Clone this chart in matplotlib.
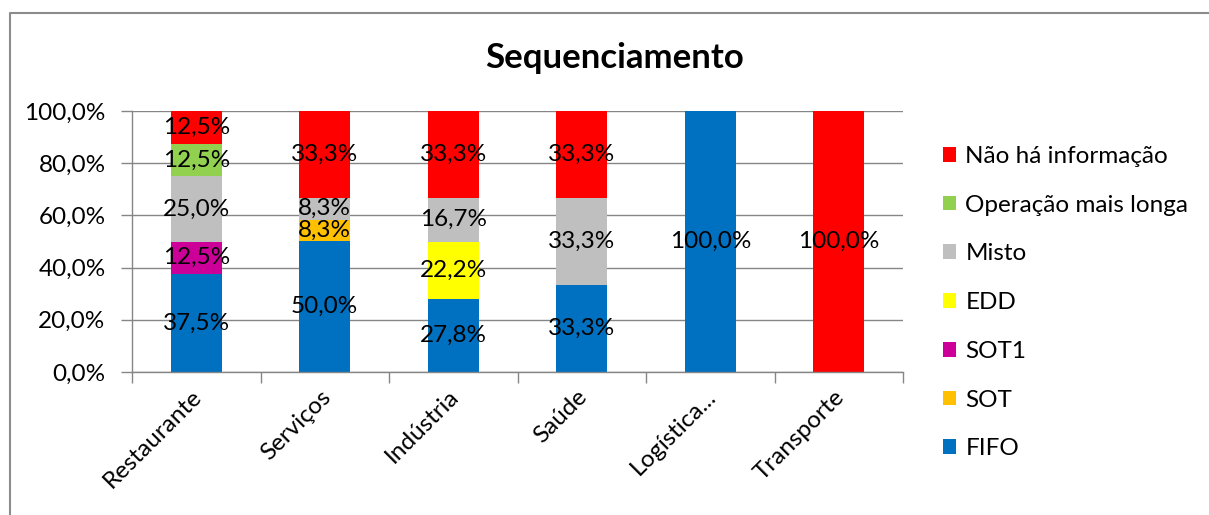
import numpy as np
import matplotlib
matplotlib.use("Agg")
import matplotlib.pyplot as plt
import matplotlib.transforms as mtransforms
from matplotlib.lines import Line2D
from matplotlib.patches import Patch

plt.rcParams['font.family'] = ['Lato', 'DejaVu Sans']

categories = ['Restaurante', 'Serviços', 'Indústria', 'Saúde', 'Logística...', 'Transporte']
series_names = ['FIFO', 'SOT', 'SOT1', 'EDD', 'Misto', 'Operação mais longa', 'Não há informação']
fifo = [37.5, 50.0, 27.8, 33.3, 100.0, 0.0]
sot = [0.0, 8.3, 0.0, 0.0, 0.0, 0.0]
sot1 = [12.5, 0.0, 0.0, 0.0, 0.0, 0.0]
edd = [0.0, 0.0, 22.2, 0.0, 0.0, 0.0]
misto = [25.0, 8.3, 16.7, 33.3, 0.0, 0.0]
op_longa = [12.5, 0.0, 0.0, 0.0, 0.0, 0.0]
sem_info = [12.5, 33.3, 33.3, 33.3, 0.0, 100.0]
colors = ['#0070C0', '#FFC000', '#CC0099', '#FFFF00', '#BFBFBF', '#92D050', '#FF0000']

values = [fifo, sot, sot1, edd, misto, op_longa, sem_info]
# normalise each column to 100% like a percent-stacked chart
totals = np.sum(values, axis=0)
shares = [np.array(v) / totals * 100 for v in values]

FS = 17.5

fig = plt.figure(figsize=(12.09, 5.15), dpi=100)
ax = fig.add_axes([132 / 1209, 1 - 372 / 515, (903 - 132) / 1209, (372 - 111) / 515])

x = np.arange(len(categories))
bottom = np.zeros(len(categories))
for name, raw, share, col in zip(series_names, values, shares, colors):
    ax.bar(x, share, 0.4, bottom=bottom, color=col, label=name, zorder=2)
    for xi, r, s, b in zip(x, raw, share, bottom):
        if r > 0:
            ax.text(xi, b + s / 2, f"{r:.1f}%".replace('.', ','), ha='center', va='center',
                    fontsize=FS, color='black', zorder=3)
    bottom += share

ax.set_xlim(-0.5, len(categories) - 0.5)
ax.set_ylim(0, 100)
ax.set_yticks(np.arange(0, 101, 20))
ax.set_yticklabels([f"{v:.1f}%".replace('.', ',') for v in np.arange(0, 101, 20)], fontsize=FS)
ax.yaxis.grid(True, color='#868686', lw=1, zorder=0)
ax.set_axisbelow(True)

ax.set_xticks(x)
ax.set_xticklabels(categories, rotation=45, ha='right', rotation_mode='anchor', fontsize=FS)
ax.tick_params(axis='x', length=0, pad=10)
# nudge rotated category labels slightly left
shift = mtransforms.ScaledTranslation(-5 / 100, 0, fig.dpi_scale_trans)
for lbl in ax.get_xticklabels():
    lbl.set_transform(lbl.get_transform() + shift)
ax.set_xticks(np.arange(-0.5, len(categories)), minor=True)
ax.tick_params(axis='x', which='minor', length=8, color='#868686', width=1)
ax.tick_params(axis='y', length=8, color='#868686', width=1, pad=11)

for side in ['top', 'right']:
    ax.spines[side].set_visible(False)
for side in ['left', 'bottom']:
    ax.spines[side].set_color('#868686')
    ax.spines[side].set_linewidth(1)

fig.text(615 / 1209, 1 - 58 / 515, 'Sequenciamento', ha='center', va='center',
         fontsize=25, fontweight='bold')

handles = [Patch(facecolor=c, edgecolor='none') for c in colors][::-1]
fig.legend(handles, series_names[::-1], loc='upper left', bbox_to_anchor=(943 / 1209, 1 - 146 / 515),
           frameon=False, fontsize=FS, handlelength=0.55, handleheight=0.55, handletextpad=0.37,
           labelspacing=1.14, borderaxespad=0, borderpad=0)

# chart frame (top and left edges)
fig.add_artist(Line2D([10 / 1209, 10 / 1209, 1], [0, 1 - 13 / 515, 1 - 13 / 515],
                      transform=fig.transFigure, color='#8C8C8C', lw=1.5))

fig.savefig('out.png', dpi=100)
